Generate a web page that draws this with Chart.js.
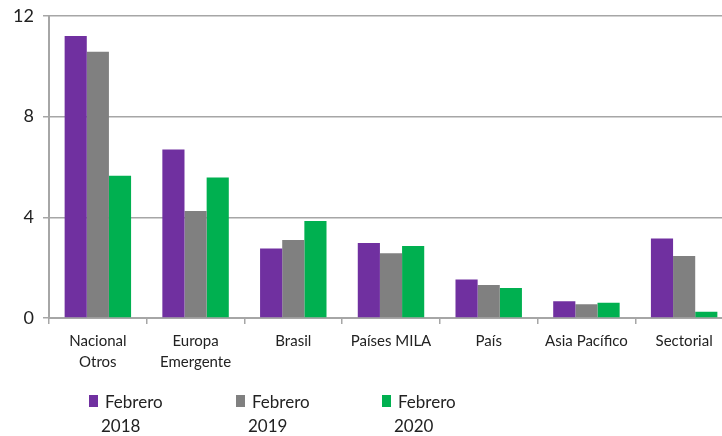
<!DOCTYPE html>
<html>
<head>
<meta charset="utf-8">
<script src="https://cdn.jsdelivr.net/npm/chart.js@4/dist/chart.umd.min.js"></script>
<style>
  html, body { margin: 0; padding: 0; background: #fff; overflow: hidden; }
  #wrap { position: relative; width: 736px; height: 436px; overflow: hidden; }
  #c { position: absolute; left: 0; top: -4px; }
  .sq { position: absolute; width: 9px; height: 12px; }
  .lt { position: absolute; font-family: Lato, sans-serif; font-size: 17px; color: #222; line-height: 24px; white-space: nowrap; }
</style>
</head>
<body>
<div id="wrap">
  <canvas id="c" width="736" height="440"></canvas>
  <div id="legend"></div>
</div>
<script>
const categories = [["Nacional", "Otros"], ["Europa", "Emergente"], "Brasil", "Países MILA", "País", "Asia Pacífico", "Sectorial"];
const seriesNames = [["Febrero", "2018"], ["Febrero", "2019"], ["Febrero", "2020"]];
const feb2018 = [11.2, 6.69, 2.76, 2.98, 1.53, 0.67, 3.16];
const feb2019 = [10.57, 4.25, 3.10, 2.57, 1.31, 0.55, 2.46];
const feb2020 = [5.65, 5.58, 3.85, 2.86, 1.19, 0.61, 0.25];
const yTicks = [0, 4, 8, 12];

const colors = ['#7030A0', '#808080', '#00B050'];
const FONT = "Lato, sans-serif";

const data = {
  labels: categories,
  datasets: [feb2018, feb2019, feb2020].map((vals, i) => ({
    label: seriesNames[i].join(' '),
    data: vals,
    backgroundColor: colors[i],
    borderWidth: 0,
    categoryPercentage: 0.68,
    barPercentage: 1.0
  }))
};

new Chart(document.getElementById('c'), {
  type: 'bar',
  data,
  options: {
    responsive: false,
    animation: false,
    layout: { padding: { left: 0, right: 3, top: 11, bottom: 0 } },
    plugins: { legend: { display: false }, tooltip: { enabled: false } },
    scales: {
      x: {
        grid: { display: true, drawOnChartArea: false, offset: true, color: '#a6a6a6', lineWidth: 1.5, tickLength: 6 },
        border: { display: true, color: '#a6a6a6', width: 2 },
        ticks: { color: '#222', font: { family: FONT, size: 15, lineHeight: 1.45 }, padding: 6, maxRotation: 0, autoSkip: false },
        afterFit: (s) => { s.height = 118; }
      },
      y: {
        min: 0, max: 12,
        afterBuildTicks: (s) => { s.ticks = yTicks.map(v => ({ value: v })); },
        grid: { color: '#a6a6a6', lineWidth: 1.5, tickLength: 6 },
        border: { display: true, color: '#a6a6a6', width: 2 },
        ticks: { color: '#222', font: { family: FONT, size: 18 }, padding: 9 },
        afterFit: (s) => { s.width = 49; }
      }
    }
  }
});

// Legend (HTML, two-line labels)
const legendPos = [89, 236, 382];
const legend = document.getElementById('legend');
seriesNames.forEach((lines, i) => {
  const sq = document.createElement('div');
  sq.className = 'sq';
  sq.style.left = legendPos[i] + 'px';
  sq.style.top = '395px';
  sq.style.background = colors[i];
  legend.appendChild(sq);
  const t1 = document.createElement('div');
  t1.className = 'lt';
  t1.style.left = (legendPos[i] + 16) + 'px';
  t1.style.top = '390px';
  t1.textContent = lines[0];
  legend.appendChild(t1);
  const t2 = document.createElement('div');
  t2.className = 'lt';
  t2.style.left = (legendPos[i] + 12) + 'px';
  t2.style.top = '414px';
  t2.textContent = lines[1];
  legend.appendChild(t2);
});
</script>
</body>
</html>
